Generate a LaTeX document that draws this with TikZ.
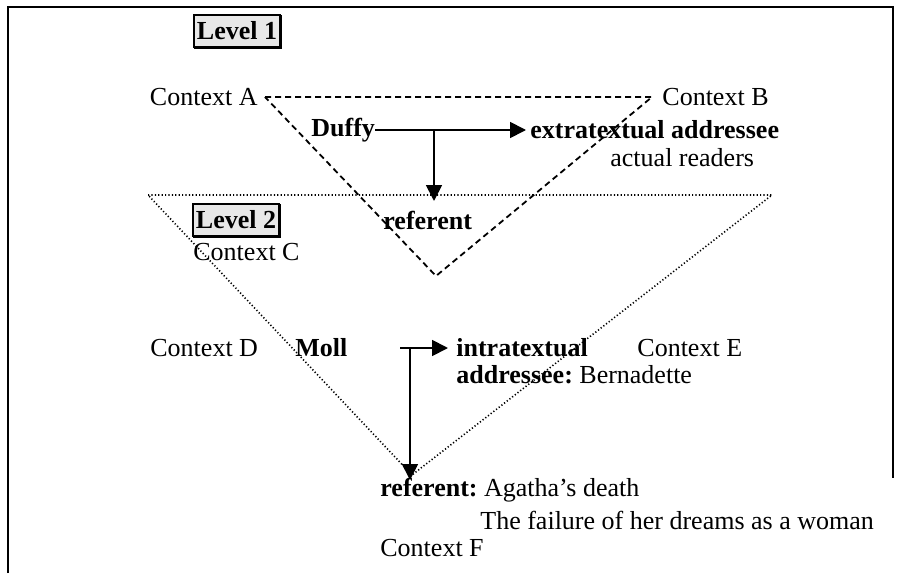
\documentclass[tikz,border=0pt]{standalone}
\usepackage{fontspec}
\setmainfont{Liberation Serif}
\usepackage{tikz}
\usetikzlibrary{positioning}
\usetikzlibrary{arrows.meta}
\usetikzlibrary{calc}

\begin{document}
\begin{tikzpicture}[
  x=0.5pt, y=-0.5pt,
  font=\fontsize{13}{15}\selectfont,
  txt/.style={inner sep=0pt, anchor=west},
  bold/.style={txt, font=\fontsize{13}{15}\selectfont\bfseries},
  levelbox/.style={draw, line width=1pt, fill=gray!18, inner xsep=1.5pt,
    minimum height=16pt, font=\fontsize{13}{15}\selectfont\bfseries},
  frame/.style={line width=1.2pt},
  lvlone/.style={dash pattern=on 3pt off 2pt, line width=0.9pt},
  lvltwo/.style={dash pattern=on 0.6pt off 1.1pt, line width=0.8pt},
  conn/.style={-{Triangle[length=8pt,width=8pt]}, line width=0.9pt}
]
\useasboundingbox (0,0) rectangle (899,573);

% Frame
\draw[frame] (8,573) -- (8,7) -- (893,7) -- (893,478);

% Level labels
\node[levelbox] (lvl1) at (237,31) {Level 1};
\draw[line width=1.2pt] ([shift={(0.1pt,-0.5pt)}]lvl1.north east) -- ([shift={(0.1pt,-0.1pt)}]lvl1.south east)
  -- ([shift={(0.5pt,-0.1pt)}]lvl1.south west);
\node[levelbox] (lvl2) at (236,220) {Level 2};
\draw[line width=1.2pt] ([shift={(0.1pt,-0.5pt)}]lvl2.north east) -- ([shift={(0.1pt,-0.1pt)}]lvl2.south east)
  -- ([shift={(0.5pt,-0.1pt)}]lvl2.south west);

% Level 1 triangle
\coordinate (ta) at (265,97);
\coordinate (tb) at (652,97);
\coordinate (tc) at (436,276);
\draw[lvlone] (ta) -- (tb) -- (tc) -- cycle;

% Level 2 triangle
\coordinate (ua) at (148,195);
\coordinate (ub) at (772,195);
\coordinate (uc) at (412,475);
\draw[lvltwo] (ua) -- (ub) -- (uc) -- cycle;

% Level 1 texts
\node[txt, anchor=east] (ctxA) at (258,97) {Context A};
\node[txt] (ctxB) at (662,97) {Context B};
\node[bold] (duffy) at (311,130) {Duffy};
\node[bold] (extra) at (530,130) {extratextual addressee};
\node[txt] (readers) at (610,158) {actual readers};
\node[bold] (ref1) at (383,220) {referent};

% Level 2 texts
\node[txt] (ctxC) at (193,252) {Context C};
\node[txt] (ctxD) at (150,348) {Context D};
\node[bold] (moll) at (295,348) {Moll};
\node[bold] (intra) at (456,348) {intratextual};
\node[txt] (ctxE) at (637,348) {Context E};
\node[txt] (addr) at (456,375) {\textbf{addressee:}~Bernadette};
\node[txt] (ref2) at (380,490) {\textbf{referent:}~Agatha's death};
\node[txt] (fail) at (480,520) {The failure of her dreams as a woman};
\node[txt] (ctxF) at (380,548) {Context F};

% Connectors
\coordinate (j1) at (434,130);
\coordinate (j1end) at (434,201);
\draw[conn] (duffy.east) -- ([xshift=-2pt]extra.west);
\draw[conn] (j1) -- (j1end);

\coordinate (m0) at (400,348);
\coordinate (j2) at (410,348);
\coordinate (j2end) at (410,480);
\draw[conn] (m0) -- ([xshift=-4pt]intra.west);
\draw[conn] (j2) -- (j2end);

\end{tikzpicture}
\end{document}
